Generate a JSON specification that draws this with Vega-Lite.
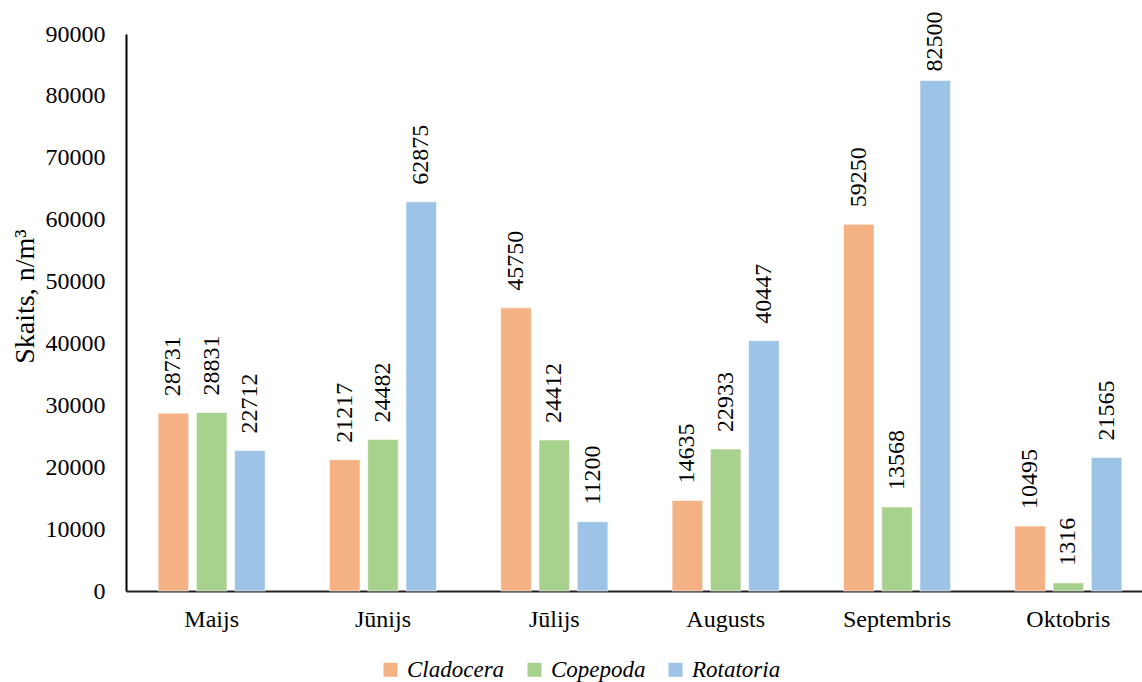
{
  "$schema": "https://vega.github.io/schema/vega-lite/v6.json",
  "autosize": {"type": "none"},
  "width": 1014,
  "height": 557,
  "padding": {"left": 126, "top": 34, "right": 2, "bottom": 91},
  "background": "white",
  "config": {
    "font": "Liberation Serif",
    "view": {"stroke": null},
    "axis": {"labelFont": "Liberation Serif", "titleFont": "Liberation Serif", "labelColor": "black", "titleColor": "black", "titleFontWeight": "normal"},
    "legend": {"labelFont": "Liberation Serif"},
    "text": {"font": "Liberation Serif"}
  },
  "data": {
    "values": [
      {"month": "Maijs", "group": "Cladocera", "count": 28731},
      {"month": "Maijs", "group": "Copepoda", "count": 28831},
      {"month": "Maijs", "group": "Rotatoria", "count": 22712},
      {"month": "Jūnijs", "group": "Cladocera", "count": 21217},
      {"month": "Jūnijs", "group": "Copepoda", "count": 24482},
      {"month": "Jūnijs", "group": "Rotatoria", "count": 62875},
      {"month": "Jūlijs", "group": "Cladocera", "count": 45750},
      {"month": "Jūlijs", "group": "Copepoda", "count": 24412},
      {"month": "Jūlijs", "group": "Rotatoria", "count": 11200},
      {"month": "Augusts", "group": "Cladocera", "count": 14635},
      {"month": "Augusts", "group": "Copepoda", "count": 22933},
      {"month": "Augusts", "group": "Rotatoria", "count": 40447},
      {"month": "Septembris", "group": "Cladocera", "count": 59250},
      {"month": "Septembris", "group": "Copepoda", "count": 13568},
      {"month": "Septembris", "group": "Rotatoria", "count": 82500},
      {"month": "Oktobris", "group": "Cladocera", "count": 10495},
      {"month": "Oktobris", "group": "Copepoda", "count": 1316},
      {"month": "Oktobris", "group": "Rotatoria", "count": 21565}
    ]
  },
  "encoding": {
    "x": {
      "field": "month",
      "type": "nominal",
      "sort": null,
      "scale": {"range": [0, 1028], "paddingInner": 0.33, "paddingOuter": 0.165},
      "axis": {
        "title": null,
        "labelAngle": 0,
        "labelFontSize": 24,
        "labelPadding": 16,
        "ticks": false,
        "domainColor": "#222222",
        "domainWidth": 2
      }
    },
    "xOffset": {
      "field": "group",
      "type": "nominal",
      "scale": {"paddingInner": 0.2, "paddingOuter": 0.1}
    },
    "y": {
      "field": "count",
      "type": "quantitative",
      "scale": {"domain": [0, 90000], "nice": false},
      "axis": {
        "title": "Skaits, n/m³",
        "titleFontSize": 28,
        "titleX": -93,
        "titleY": 262,
        "titleAngle": 270,
        "titleAlign": "center",
        "titleBaseline": "alphabetic",
        "labelFontSize": 24,
        "labelPadding": 21,
        "values": [0, 10000, 20000, 30000, 40000, 50000, 60000, 70000, 80000, 90000],
        "format": "d",
        "ticks": false,
        "grid": false,
        "domainColor": "black",
        "domainWidth": 2
      }
    }
  },
  "layer": [
    {
      "mark": {"type": "bar", "stroke": "white", "strokeWidth": 1, "strokeOpacity": 0.6},
      "encoding": {
        "color": {
          "field": "group",
          "type": "nominal",
          "scale": {"domain": ["Cladocera", "Copepoda", "Rotatoria"], "range": ["#F4B183", "#A9D18E", "#9DC3E6"]},
          "legend": {
            "title": null,
            "orient": "none",
            "legendX": 253,
            "legendY": 624,
            "direction": "horizontal",
            "symbolType": "square",
            "symbolSize": 196,
            "symbolStrokeWidth": 0,
            "labelFontStyle": "italic",
            "labelFontSize": 23,
            "labelColor": "black",
            "labelOffset": 5,
            "columnPadding": 18
          }
        }
      }
    },
    {
      "transform": [{"filter": "datum.count < 80000"}],
      "mark": {"type": "text", "angle": 270, "align": "left", "baseline": "middle", "dx": 17, "fontSize": 24, "font": "Liberation Serif", "color": "black"},
      "encoding": {
        "text": {"field": "count", "type": "quantitative", "format": "d"}
      }
    },
    {
      "transform": [{"filter": "datum.count >= 80000"}],
      "mark": {"type": "text", "angle": 270, "align": "left", "baseline": "middle", "dx": 9, "fontSize": 24, "font": "Liberation Serif", "color": "black"},
      "encoding": {
        "text": {"field": "count", "type": "quantitative", "format": "d"}
      }
    }
  ]
}
